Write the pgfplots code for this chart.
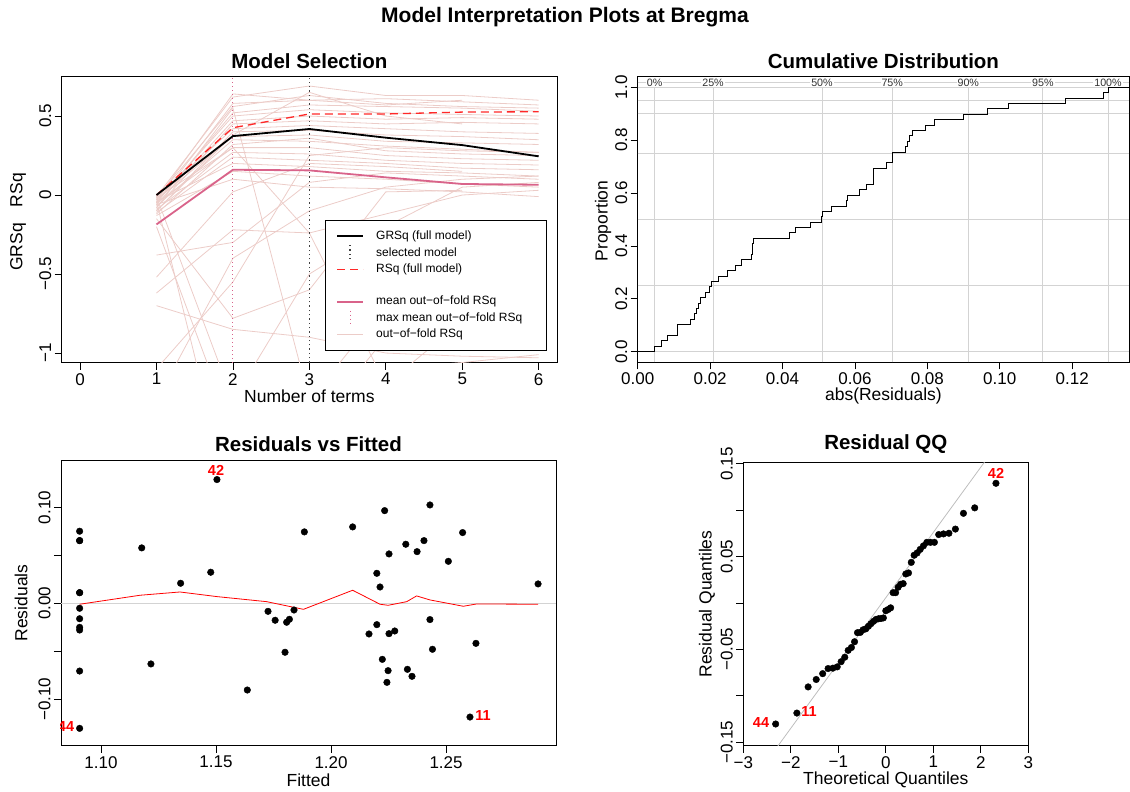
\documentclass[border=0pt]{standalone}
\usepackage{fontspec}
\setmainfont{Liberation Sans}
\usepackage{pgfplots}
\pgfplotsset{compat=1.18}
\definecolor{oof}{RGB}{236,204,200}
\definecolor{meanoof}{RGB}{217,99,138}
\definecolor{gridg}{RGB}{211,211,211}
\definecolor{qqline}{RGB}{190,190,190}
\definecolor{rsqred}{RGB}{255,40,40}
\newcommand{\fTick}{\fontsize{17}{19}\selectfont}
\newcommand{\fLab}{\fontsize{17.5}{20}\selectfont}
\newcommand{\fTitle}{\fontsize{20.5}{24}\selectfont\bfseries}
\newcommand{\fLeg}{\fontsize{12}{14}\selectfont}
\newcommand{\fQ}{\fontsize{10.7}{12}\selectfont}
\newcommand{\fRed}{\fontsize{14.5}{16}\selectfont\bfseries}
\tikzset{
  rdash/.style={draw=rsqred, line width=1.3pt, dash pattern=on 8pt off 5pt},
  sdot/.style={draw=black!75, line width=1.3pt, dash pattern=on 1.3pt off 3pt},
  pdot/.style={draw=meanoof, line width=0.9pt, dash pattern=on 1pt off 3pt},
  ooff/.style={draw=oof, line width=0.8pt},
}
\pgfplotsset{
  rstyle/.style={scale only axis, anchor=south west,
    axis line style={line width=0.8pt},
    tick align=outside, tick pos=left, major tick length=7pt,
    every tick/.style={black, line width=0.8pt},
    tick label style={font=\fTick},
    yticklabel style={rotate=90, anchor=south},
    xticklabel style={anchor=north},
    /pgf/number format/assume math mode=true,
  },
}
\begin{document}
\begin{tikzpicture}[x=1pt,y=1pt]
\useasboundingbox (0,0) rectangle (1130,792);
\node[font=\fontsize{21}{25}\selectfont\bfseries] at (565,775) {Model Interpretation Plots at Bregma};

% ---------------- Panel 1: Model Selection ----------------
\begin{axis}[rstyle, at={(61.7pt,429.3pt)}, width=495.3pt, height=286pt,
  xmin=-0.24, xmax=6.24, ymin=-1.061, ymax=0.749,
  xtick={0,1,2,3,4,5,6}, ytick={-1,-0.5,0,0.5}, yticklabels={−1,−0.5,0,0.5}]
\addplot[ooff, forget plot] coordinates {(1,-0.01)(2,0.62)(3,0.69)(4,0.63)(5,0.63)(6,0.60)};
\addplot[ooff, forget plot] coordinates {(1,-0.03)(2,0.64)(3,0.60)(4,0.61)(5,0.59)(6,0.57)};
\addplot[ooff, forget plot] coordinates {(1,-0.02)(2,0.56)(3,0.63)(4,0.58)(5,0.56)(6,0.55)};
\addplot[ooff, forget plot] coordinates {(1,-0.05)(2,0.52)(3,0.57)(4,0.56)(5,0.55)(6,0.53)};
\addplot[ooff, forget plot] coordinates {(1,-0.04)(2,0.50)(3,0.54)(4,0.52)(5,0.51)(6,0.50)};
\addplot[ooff, forget plot] coordinates {(1,-0.06)(2,0.47)(3,0.50)(4,0.48)(5,0.49)(6,0.48)};
\addplot[ooff, forget plot] coordinates {(1,-0.08)(2,0.45)(3,0.47)(4,0.45)(5,0.46)(6,0.45)};
\addplot[ooff, forget plot] coordinates {(1,-0.02)(2,0.42)(3,0.44)(4,0.42)(5,0.40)(6,0.39)};
\addplot[ooff, forget plot] coordinates {(1,-0.10)(2,0.40)(3,0.41)(4,0.38)(5,0.37)(6,0.35)};
\addplot[ooff, forget plot] coordinates {(1,-0.03)(2,0.37)(3,0.38)(4,0.34)(5,0.33)(6,0.32)};
\addplot[ooff, forget plot] coordinates {(1,-0.07)(2,0.35)(3,0.34)(4,0.31)(5,0.29)(6,0.27)};
\addplot[ooff, forget plot] coordinates {(1,-0.12)(2,0.32)(3,0.36)(4,0.28)(5,0.26)(6,0.25)};
\addplot[ooff, forget plot] coordinates {(1,-0.05)(2,0.30)(3,0.30)(4,0.25)(5,0.23)(6,0.22)};
\addplot[ooff, forget plot] coordinates {(1,-0.09)(2,0.27)(3,0.26)(4,0.22)(5,0.20)(6,0.19)};
\addplot[ooff, forget plot] coordinates {(1,-0.11)(2,0.24)(3,0.22)(4,0.20)(5,0.17)(6,0.16)};
\addplot[ooff, forget plot] coordinates {(1,-0.04)(2,0.20)(3,0.18)(4,0.15)(5,0.14)(6,0.12)};
\addplot[ooff, forget plot] coordinates {(1,-0.13)(2,0.15)(3,0.12)(4,0.10)(5,0.07)(6,0.05)};
\addplot[ooff, forget plot] coordinates {(1,-0.06)(2,0.10)(3,0.05)(4,0.04)(5,0.02)(6,-0.01)};
\addplot[ooff, forget plot] coordinates {(1,-0.38)(2,-0.30)(3,0.08)(4,0.14)(5,0.12)(6,0.10)};
\addplot[ooff, forget plot] coordinates {(1,-0.52)(2,0.02)(3,0.20)(4,0.18)(5,0.15)};
\addplot[ooff, forget plot] coordinates {(1,-0.62)(2,-0.22)(3,-0.24)(4,-0.12)(5,0.00)(6,0.03)};
\addplot[ooff, forget plot] coordinates {(1,-0.70)(2,-0.85)(3,-0.90)(4,-1.00)(5,-1.02)(6,-1.03)};
\addplot[ooff, forget plot] coordinates {(1,-1.10)(2,-0.55)(3,0.25)(4,0.30)(5,0.28)(6,0.27)};
\addplot[ooff, forget plot] coordinates {(1,-1.30)(2,-0.40)(3,-0.10)(4,0.05)(5,0.10)(6,0.12)};
\addplot[ooff, forget plot] coordinates {(1,-0.01)(2,-1.30)(3,-0.50)(4,-0.20)(5,0.05)(6,0.08)};
\addplot[ooff, forget plot] coordinates {(1,-0.04)(2,-2.00)(3,-1.50)(4,-0.90)(5,-0.60)(6,-0.55)};
\addplot[ooff, forget plot] coordinates {(1,-0.08)(2,0.55)(3,-1.30)(4,-0.70)(5,-0.40)(6,-0.45)};
\addplot[ooff, forget plot] coordinates {(1,-0.02)(2,0.30)(3,-0.24)(4,-1.20)(5,-0.80)(6,-0.90)};
\addplot[ooff, forget plot] coordinates {(1,-0.15)(2,-0.78)(3,-0.60)(4,0.02)(5,0.03)};
\addplot[ooff, forget plot] coordinates {(1,-0.10)(2,0.38)(3,0.65)(4,0.50)(5,0.45)};
\addplot[ooff, forget plot] coordinates {(1,-0.20)(2,-1.50)(3,-1.20)(4,-1.10)(5,-1.06)(6,-1.01)};
\addplot[ooff, forget plot] coordinates {(1,-0.05)(2,0.58)(3,0.60)(4,0.57)(5,0.60)};
\addplot[pdot] coordinates {(2,-1.061)(2,0.749)};
\addplot[sdot] coordinates {(3,-1.061)(3,0.749)};
\addplot[meanoof, line width=1.8pt] coordinates {(1,-0.186)(2,0.160)(3,0.156)(4,0.112)(5,0.070)(6,0.065)};
\addplot[rdash] coordinates {(1,0)(2,0.426)(3,0.513)(4,0.513)(5,0.525)(6,0.527)};
\addplot[black, line width=1.8pt] coordinates {(1,0)(2,0.373)(3,0.418)(4,0.363)(5,0.316)(6,0.245)};
\end{axis}
\node[font=\fTitle] at (309.4,731) {Model Selection};
\node[font=\fLab] at (309.4,396) {Number of terms};
\node[font=\fLab, rotate=90] at (18,570) {GRSq\hspace{16pt}RSq};
% legend
\draw[fill=white, line width=0.8pt] (325,572) rectangle (546.7,441.3);
\draw[color=black, line width=1.8pt] (337,556) -- (363,556);
\draw[color=black!75, line width=1.3pt, dash pattern=on 1.3pt off 3pt] (350,546.8) -- (350,532.3);
\draw[color=rsqred, line width=1.3pt, dash pattern=on 8pt off 5pt] (337,522.7) -- (363,522.7);
\draw[color=meanoof, line width=1.8pt] (337,490.3) -- (363,490.3);
\draw[color=meanoof, line width=0.9pt, dash pattern=on 1pt off 3pt] (350,481.2) -- (350,466.7);
\draw[color=oof, line width=0.8pt] (337,457.7) -- (363,457.7);
\node[font=\fLeg, anchor=west, inner sep=0pt] at (376,556) {GRSq (full model)};
\node[font=\fLeg, anchor=west, inner sep=0pt] at (376,539.3) {selected model};
\node[font=\fLeg, anchor=west, inner sep=0pt] at (376,522.7) {RSq (full model)};
\node[font=\fLeg, anchor=west, inner sep=0pt] at (376,490.3) {mean out−of−fold RSq};
\node[font=\fLeg, anchor=west, inner sep=0pt] at (376,473.7) {max mean out−of−fold RSq};
\node[font=\fLeg, anchor=west, inner sep=0pt] at (376,457.7) {out−of−fold RSq};

% ---------------- Panel 2: Cumulative Distribution ----------------
\begin{axis}[rstyle, at={(637.7pt,429.7pt)}, width=491.3pt, height=285.6pt,
  xmin=0, xmax=0.1357, ymin=-0.04, ymax=1.04,
  xtick={0,0.02,0.04,0.06,0.08,0.10,0.12},
  xticklabels={0.00,0.02,0.04,0.06,0.08,0.10,0.12},
  ytick={0,0.2,0.4,0.6,0.8,1.0}, yticklabels={0.0,0.2,0.4,0.6,0.8,1.0}]
\pgfplotsinvokeforeach{0,0.25,0.5,0.75,0.9,0.95,1.0}{
  \addplot[gridg, line width=0.8pt, forget plot] coordinates {(0,#1)(0.1357,#1)};}
\addplot[gridg, line width=0.6pt, forget plot] coordinates {(0,1.0174)(0.1357,1.0174)};
\pgfplotsinvokeforeach{0.0047,0.0208,0.0509,0.0703,0.0913,0.1119,0.1299}{
  \addplot[gridg, line width=0.8pt, forget plot] coordinates {(#1,-0.04)(#1,1.0)};}
\addplot[black, line width=1pt, const plot] coordinates {
(0,0) (0.0047,0.0204) (0.0067,0.0408) (0.0081,0.0612) (0.0111,0.1020) (0.0146,0.1224)
(0.0158,0.1429) (0.0163,0.1633) (0.0168,0.1837) (0.0174,0.2041) (0.0188,0.2245)
(0.0197,0.2449) (0.0203,0.2653) (0.0222,0.2857) (0.0247,0.3061) (0.0269,0.3265)
(0.0288,0.3469) (0.0313,0.3673) (0.0316,0.3878) (0.0318,0.4082) (0.0320,0.4286)
(0.0418,0.4490) (0.0437,0.4694) (0.0477,0.4898) (0.0509,0.5102) (0.0510,0.5306)
(0.0535,0.5510) (0.0576,0.5714) (0.0580,0.5918) (0.0612,0.6122) (0.0631,0.6327)
(0.0651,0.6735) (0.0652,0.6939) (0.0688,0.7143) (0.0703,0.7347) (0.0704,0.7551)
(0.0739,0.7755) (0.0746,0.7959) (0.0752,0.8163) (0.0760,0.8367) (0.0794,0.8571)
(0.0820,0.8776) (0.0901,0.8980) (0.0965,0.9184) (0.1025,0.9388) (0.1182,0.9592)
(0.1287,0.9796) (0.1299,1.0) (0.1357,1.0)};
\node[font=\fQ, fill=white, inner sep=1pt, text=black!80] at (axis cs:0.0047,1.0174) {0\%};
\node[font=\fQ, fill=white, inner sep=1pt, text=black!80] at (axis cs:0.0208,1.0174) {25\%};
\node[font=\fQ, fill=white, inner sep=1pt, text=black!80] at (axis cs:0.0509,1.0174) {50\%};
\node[font=\fQ, fill=white, inner sep=1pt, text=black!80] at (axis cs:0.0703,1.0174) {75\%};
\node[font=\fQ, fill=white, inner sep=1pt, text=black!80] at (axis cs:0.0913,1.0174) {90\%};
\node[font=\fQ, fill=white, inner sep=1pt, text=black!80] at (axis cs:0.1119,1.0174) {95\%};
\node[font=\fQ, fill=white, inner sep=1pt, text=black!80] at (axis cs:0.1299,1.0174) {100\%};
\end{axis}
\node[font=\fTitle] at (883.4,731) {Cumulative Distribution};
\node[font=\fLab] at (883.4,396) {abs(Residuals)};
\node[font=\fLab, rotate=90] at (603,571) {Proportion};

% ---------------- Panel 3: Residuals vs Fitted ----------------
\begin{axis}[rstyle, at={(61pt,46.3pt)}, width=495pt, height=285pt,
  xmin=1.0826, xmax=1.2978, ymin=-0.1486, ymax=0.1488,
  xtick={1.10,1.15,1.20,1.25}, xticklabels={1.10,1.15,1.20,1.25},
  ytick={-0.10,-0.05,0,0.05,0.10}, yticklabels={−0.10,,0.00,,0.10}]
\addplot[gridg, line width=0.8pt] coordinates {(1.0826,0)(1.2978,0)};
\addplot[red, line width=0.8pt] coordinates {(1.0907,-0.0010)(1.117,0.0084)(1.1343,0.0118)(1.1503,0.0070)(1.172,0.0017)(1.188,-0.0063)(1.2094,0.0136)(1.2213,-0.0010)(1.2248,-0.0021)(1.2329,0.0017)(1.2372,0.0077)(1.243,0.0035)(1.2575,-0.0031)(1.2633,-0.0007)(1.29,-0.001)};
\addplot[only marks, mark=*, mark size=3.3pt, black] coordinates {
(1.0907,0.0752)(1.0907,0.0654)(1.0907,0.0654)(1.0907,0.0111)(1.0907,0.0111)
(1.0907,-0.0052)(1.0907,-0.0161)(1.0907,-0.0251)(1.0907,-0.0279)(1.0907,-0.0707)
(1.0907,-0.1305)(1.1177,0.0578)(1.1217,-0.0633)(1.1346,0.0209)(1.1477,0.0324)
(1.1504,0.1291)(1.1636,-0.0905)(1.1726,-0.0084)(1.1757,-0.0177)(1.1800,-0.0511)
(1.1807,-0.0198)(1.1819,-0.0167)(1.1839,-0.0070)(1.1884,0.0745)(1.2094,0.0797)
(1.2165,-0.0320)(1.2199,0.0313)(1.2199,-0.0223)(1.2213,0.0170)(1.2223,-0.0585)
(1.2233,0.0967)(1.2243,-0.0825)(1.2248,-0.0703)(1.2252,0.0515)(1.2252,-0.0317)
(1.2277,-0.0289)(1.2325,0.0616)(1.2332,-0.0689)(1.2352,-0.0762)(1.2374,0.0539)
(1.2404,0.0654)(1.2430,0.1026)(1.2430,-0.0170)(1.2441,-0.0480)(1.2510,0.0438)
(1.2572,0.0738)(1.2604,-0.1187)(1.2630,-0.0418)(1.2900,0.0202)};
\node[red, font=\fRed] at (axis cs:1.15,0.1391) {42};
\node[red, font=\fRed] at (axis cs:1.0848,-0.1290) {44};
\node[red, font=\fRed] at (axis cs:1.2661,-0.1175) {11};
\end{axis}
\node[font=\fTitle] at (308.5,348) {Residuals vs Fitted};
\node[font=\fLab] at (308.5,12) {Fitted};
\node[font=\fLab, rotate=90] at (21,189) {Residuals};

% ---------------- Panel 4: Residual QQ ----------------
\begin{axis}[rstyle, at={(743.3pt,46.3pt)}, width=285pt, height=283pt,
  xmin=-3, xmax=3, ymin=-0.1539, ymax=0.1513,
  xtick={-3,-2,-1,0,1,2,3}, xticklabels={−3,−2,−1,0,1,2,3},
  ytick={-0.15,-0.10,-0.05,0,0.05,0.10,0.15}, yticklabels={−0.15,,−0.05,,0.05,,0.15}]
\addplot[qqline, line width=0.8pt] coordinates {(-3,-0.2055)(3,0.2169)};
\addplot[only marks, mark=*, mark size=3.3pt, black] coordinates {
(-2.319,-0.1305)(-1.872,-0.1187)(-1.635,-0.0905)(-1.465,-0.0825)(-1.329,-0.0762)
(-1.215,-0.0707)(-1.114,-0.0703)(-1.023,-0.0689)(-0.940,-0.0633)(-0.864,-0.0585)
(-0.792,-0.0511)(-0.724,-0.0480)(-0.658,-0.0418)(-0.596,-0.0320)(-0.536,-0.0317)
(-0.478,-0.0289)(-0.421,-0.0279)(-0.366,-0.0251)(-0.312,-0.0223)(-0.259,-0.0198)
(-0.206,-0.0177)(-0.154,-0.0170)(-0.102,-0.0167)(-0.051,-0.0161)(0.000,-0.0084)
(0.051,-0.0070)(0.102,-0.0052)(0.154,0.0111)(0.206,0.0111)(0.259,0.0170)
(0.312,0.0202)(0.366,0.0209)(0.421,0.0313)(0.478,0.0324)(0.536,0.0438)
(0.596,0.0515)(0.658,0.0539)(0.724,0.0578)(0.792,0.0616)(0.864,0.0654)
(0.940,0.0654)(1.023,0.0654)(1.114,0.0738)(1.215,0.0745)(1.329,0.0752)
(1.465,0.0797)(1.635,0.0967)(1.872,0.1026)(2.319,0.1291)};
\node[red, font=\fRed] at (axis cs:2.32,0.1396) {42};
\node[red, font=\fRed] at (axis cs:-1.617,-0.1174) {11};
\node[red, font=\fRed] at (axis cs:-2.627,-0.1291) {44};
\end{axis}
\node[font=\fTitle] at (885.8,348) {Residual QQ};
\node[font=\fLab] at (885.8,12) {Theoretical Quantiles};
\node[font=\fLab, rotate=90] at (707,188) {Residual Quantiles};
\end{tikzpicture}
\end{document}
